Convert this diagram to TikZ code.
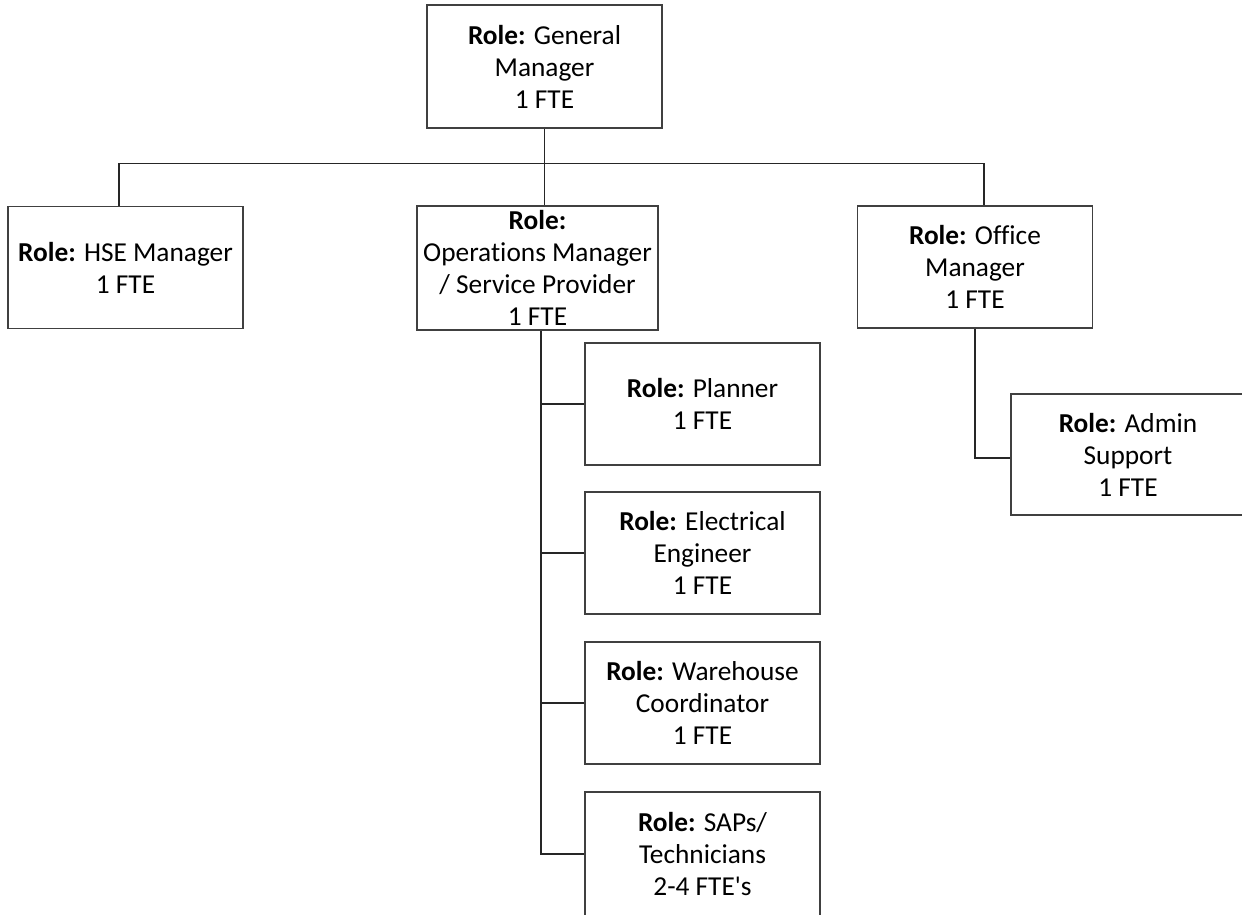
\documentclass[tikz,border=0pt]{standalone}
\usepackage{fontspec}
\setmainfont{Carlito}[Ligatures={NoCommon}]

\begin{document}
\begin{tikzpicture}[x=0.75pt,y=-0.75pt,
    poste/.style={draw=black!75,line width=0.8pt,align=center,
        minimum width=176.25pt,minimum height=91.5pt,inner xsep=2pt,inner ysep=0pt,
        font=\fontsize{20.5pt}{24pt}\selectfont},
    lien/.style={draw=black!85,line width=0.9pt}]
% Cadre de la page
\useasboundingbox (0,0) rectangle (1242,914);

% Direction
\node[poste,minimum height=92.25pt] (gm) at (544.5,66.5) {\textbf{Role:} General\\Manager\\1 FTE};

% Premier niveau
\node[poste] (hse) at (125.5,267.5) {\textbf{Role:} HSE Manager\\1 FTE};
\node[poste,minimum width=180.75pt,minimum height=93pt] (ops) at (537.5,268) {\textbf{Role:}\\Operations Manager\\/ Service Provider\\1 FTE};
\node[poste] (office) at (975,267) {\textbf{Role:} Office\\Manager\\1 FTE};

% Equipe operations
\node[poste] (planner) at (702.5,404) {\textbf{Role:} Planner\\1 FTE};
\node[poste] (elec) at (702.5,553) {\textbf{Role:} Electrical\\Engineer\\1 FTE};
\node[poste] (ware) at (702.5,703) {\textbf{Role:} Warehouse\\Coordinator\\1 FTE};
\node[poste,minimum height=93pt] (saps) at (702.5,854) {\textbf{Role:} SAPs/\\Technicians\\2-4 FTE\textquotesingle s};

% Equipe bureau
\node[poste,minimum width=175.5pt,minimum height=90.75pt] (admin) at (1128,454.5) {\textbf{Role:} Admin\\Support\\1 FTE};

% Liaisons
\coordinate (bus) at ([yshift=-26.25pt]gm.south);
\coordinate (hsetop) at ([xshift=-4.9pt]hse.north);
\coordinate (officetop) at ([xshift=6.75pt]office.north);
\coordinate (opsbot) at ([xshift=2.6pt]ops.south);
\draw[lien] (gm.south) -- (gm.south |- ops.north);
\draw[lien] (hsetop) |- (bus) -| (officetop);
\draw[lien] (opsbot) |- (saps.west);
\foreach \n in {planner,elec,ware}
    \draw[lien] (opsbot |- \n.west) -- (\n.west);
\draw[lien] (office.south) |- ([yshift=-2.6pt]admin.west);
\end{tikzpicture}
\end{document}
